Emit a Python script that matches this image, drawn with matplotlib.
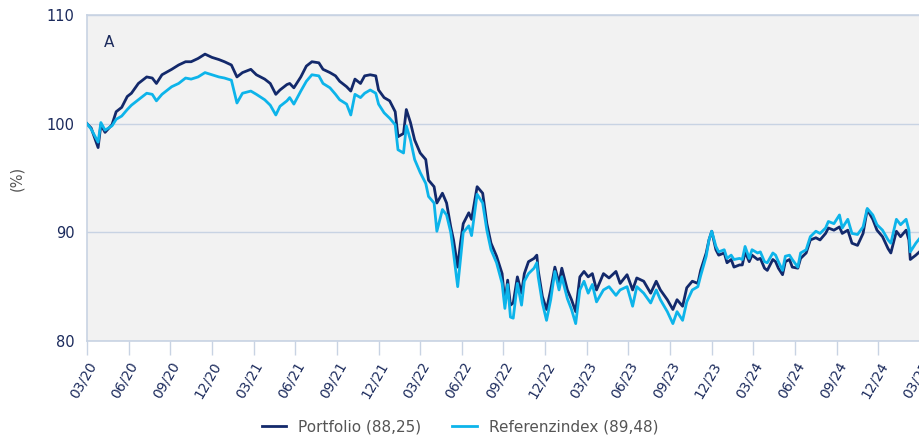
import matplotlib
matplotlib.use("Agg")
import matplotlib.pyplot as plt
import numpy as np

months = [0.0, 0.3, 0.8, 1.0, 1.3, 1.8, 2.1, 2.5, 2.9, 3.2, 3.7, 4.3, 4.7, 5.0, 5.4,
          6.1, 6.6, 7.1, 7.5, 8.0, 8.5, 9.0, 9.5, 9.9, 10.4, 10.8, 11.2, 11.8, 12.2,
          12.8, 13.2, 13.6, 13.9, 14.4, 14.6, 14.9, 15.4, 15.8, 16.2, 16.7, 17.0, 17.5,
          17.9, 18.2, 18.7, 19.0, 19.3, 19.7, 20.0, 20.4, 20.8, 21.0, 21.4, 21.8, 22.2,
          22.4, 22.8, 23.0, 23.3, 23.6, 24.0, 24.4, 24.6, 25.0, 25.2, 25.6, 25.9, 26.2,
          26.4, 26.7, 26.9, 27.1, 27.5, 27.7, 28.1, 28.5, 28.8, 29.1, 29.5, 29.9, 30.1,
          30.3, 30.5, 30.7, 31.0, 31.3, 31.5, 31.8, 32.2, 32.4, 32.5, 32.8, 33.1, 33.4,
          33.7, 34.0, 34.2, 34.6, 34.9, 35.2, 35.5, 35.8, 36.1, 36.4, 36.7, 37.2, 37.6,
          38.1, 38.4, 38.9, 39.3, 39.6, 40.1, 40.6, 41.0, 41.3, 41.8, 42.2, 42.5, 42.9,
          43.2, 43.6, 44.0, 44.2, 44.6, 44.8, 45.0, 45.3, 45.5, 45.9, 46.1, 46.4, 46.6,
          47.0, 47.2, 47.4, 47.7, 47.9, 48.3, 48.5, 48.8, 49.0, 49.4, 49.6, 49.8, 50.1,
          50.3, 50.6, 50.8, 51.2, 51.4, 51.8, 52.1, 52.5, 52.8, 53.2, 53.4, 53.8, 54.2,
          54.4, 54.8, 55.1, 55.5, 55.9, 56.2, 56.6, 56.9, 57.3, 57.7, 57.9, 58.3, 58.6,
          59.0, 59.2, 59.3, 59.7, 60.0]

portfolio = [100.0, 99.6, 97.8, 99.9, 99.2, 99.9, 101.1, 101.5, 102.5, 102.8, 103.7, 104.3,
             104.2, 103.7, 104.5, 105.0, 105.4, 105.7, 105.7, 106.0, 106.4, 106.1, 105.9,
             105.7, 105.4, 104.3, 104.7, 105.0, 104.5, 104.1, 103.7, 102.7, 103.1, 103.6,
             103.7, 103.3, 104.3, 105.3, 105.7, 105.6, 105.0, 104.7, 104.4, 103.9, 103.4,
             103.0, 104.1, 103.7, 104.4, 104.5, 104.4, 103.1, 102.4, 102.1, 101.1, 98.8,
             99.1, 101.3, 100.1, 98.5, 97.3, 96.7, 94.8, 94.2, 92.7, 93.6, 92.7, 90.5,
             89.3, 86.8, 89.0, 90.8, 91.8, 91.2, 94.2, 93.6, 90.8, 89.0, 87.8, 86.2, 83.5,
             85.6, 83.3, 83.5, 85.9, 84.4, 86.2, 87.3, 87.6, 87.9, 86.5, 84.1, 82.9, 84.7,
             86.8, 85.3, 86.7, 84.7, 83.8, 82.7, 85.9, 86.4, 85.9, 86.2, 84.7, 86.2, 85.8,
             86.4, 85.3, 86.1, 84.7, 85.8, 85.5, 84.4, 85.5, 84.7, 83.8, 82.9, 83.8, 83.2,
             84.9, 85.5, 85.3, 86.5, 88.1, 89.3, 90.1, 88.4, 87.9, 88.1, 87.2, 87.5, 86.8,
             87.0, 87.0, 88.2, 87.3, 87.9, 87.5, 87.6, 86.7, 86.5, 87.5, 87.3, 86.7, 86.1,
             87.3, 87.5, 86.8, 86.7, 87.6, 88.1, 89.3, 89.5, 89.3, 89.9, 90.4, 90.2, 90.5,
             89.9, 90.2, 89.0, 88.8, 89.9, 92.1, 91.2, 90.2, 89.6, 88.5, 88.1, 90.1, 89.6,
             90.2, 89.3, 87.5, 87.9, 88.25]

referenz = [100.0, 99.5, 98.3, 100.1, 99.4, 99.8, 100.4, 100.7, 101.3, 101.7, 102.2, 102.8,
            102.7, 102.1, 102.7, 103.4, 103.7, 104.2, 104.1, 104.3, 104.7, 104.5, 104.3,
            104.2, 104.0, 101.9, 102.8, 103.0, 102.7, 102.2, 101.7, 100.8, 101.6, 102.1,
            102.4, 101.8, 103.0, 103.9, 104.5, 104.4, 103.7, 103.3, 102.7, 102.2, 101.8,
            100.8, 102.7, 102.4, 102.8, 103.1, 102.8, 101.8, 101.0, 100.5, 99.9, 97.6,
            97.3, 99.8, 98.5, 96.7, 95.5, 94.5, 93.3, 92.7, 90.1, 92.1, 91.6, 90.0, 88.1,
            85.0, 87.5, 90.0, 90.6, 89.7, 93.5, 92.7, 90.2, 88.4, 87.2, 85.3, 83.0, 85.2,
            82.2, 82.1, 85.3, 83.3, 85.5, 86.2, 86.7, 87.2, 85.9, 83.5, 81.9, 83.8, 86.4,
            84.7, 85.9, 83.9, 82.9, 81.6, 84.7, 85.5, 84.4, 85.2, 83.6, 84.7, 85.0, 84.2,
            84.7, 85.0, 83.2, 85.0, 84.4, 83.5, 84.7, 83.8, 82.7, 81.6, 82.7, 81.9, 83.6,
            84.7, 85.0, 86.0, 87.8, 89.3, 90.1, 88.7, 88.2, 88.4, 87.6, 87.9, 87.5, 87.6,
            87.5, 88.7, 87.6, 88.4, 88.1, 88.2, 87.3, 87.2, 88.1, 87.9, 87.3, 86.5, 87.8,
            87.9, 87.5, 86.8, 88.1, 88.4, 89.6, 90.1, 89.9, 90.4, 91.0, 90.8, 91.6, 90.4,
            91.2, 89.9, 89.8, 90.5, 92.2, 91.6, 90.7, 90.2, 89.3, 89.0, 91.2, 90.7, 91.2,
            90.2, 88.2, 89.0, 89.48]

tick_months = list(range(0, 61, 3))
tick_labels = ["03/20", "06/20", "09/20", "12/20", "03/21", "06/21", "09/21", "12/21",
               "03/22", "06/22", "09/22", "12/22", "03/23", "06/23", "09/23", "12/23",
               "03/24", "06/24", "09/24", "12/24", "03/25"]
y_ticks = [80, 90, 100, 110]

navy = "#13296b"
cyan = "#0db4ea"
frame = "#c8d3e3"
textblue = "#1b2a5c"

fig = plt.figure(figsize=(9.2, 4.4), dpi=100)
ax = fig.add_axes([87 / 920, 1 - 341 / 440, 833 / 920, (341 - 15) / 440])
ax.set_facecolor("#f2f2f2")

ax.plot(months, portfolio, color=navy, lw=2.0, label="Portfolio (88,25)", zorder=3)
ax.plot(months, referenz, color=cyan, lw=2.0, label="Referenzindex (89,48)", zorder=4)

ax.set_xlim(0, 60)
ax.set_ylim(80, 110)
ax.set_yticks(y_ticks)
ax.set_xticks(tick_months)
ax.set_xticklabels(tick_labels, rotation=60, ha="right", rotation_mode="anchor",
                   fontsize=10, color=textblue)
ax.tick_params(axis="x", length=10, width=1, color=frame, pad=3)
ax.tick_params(axis="y", length=0, pad=9, labelsize=10.5, labelcolor=textblue)
ax.grid(axis="y", color=frame, lw=1)
ax.set_axisbelow(True)

for s in ["left", "top", "bottom"]:
    ax.spines[s].set_color(frame)
    ax.spines[s].set_linewidth(1.2)
ax.spines["right"].set_visible(False)

ax.set_ylabel("(%)", color="#555555", fontsize=10.5, labelpad=16)
ax.text(0.02, 0.94, "A", transform=ax.transAxes, color=textblue, fontsize=11,
        va="top", ha="left")

leg = fig.legend(loc="center", bbox_to_anchor=(0.5, 0.03), ncol=2, frameon=False,
                 fontsize=11, handlelength=1.6, columnspacing=2.0, labelcolor="#555555")

fig.savefig("out.png", dpi=100)
